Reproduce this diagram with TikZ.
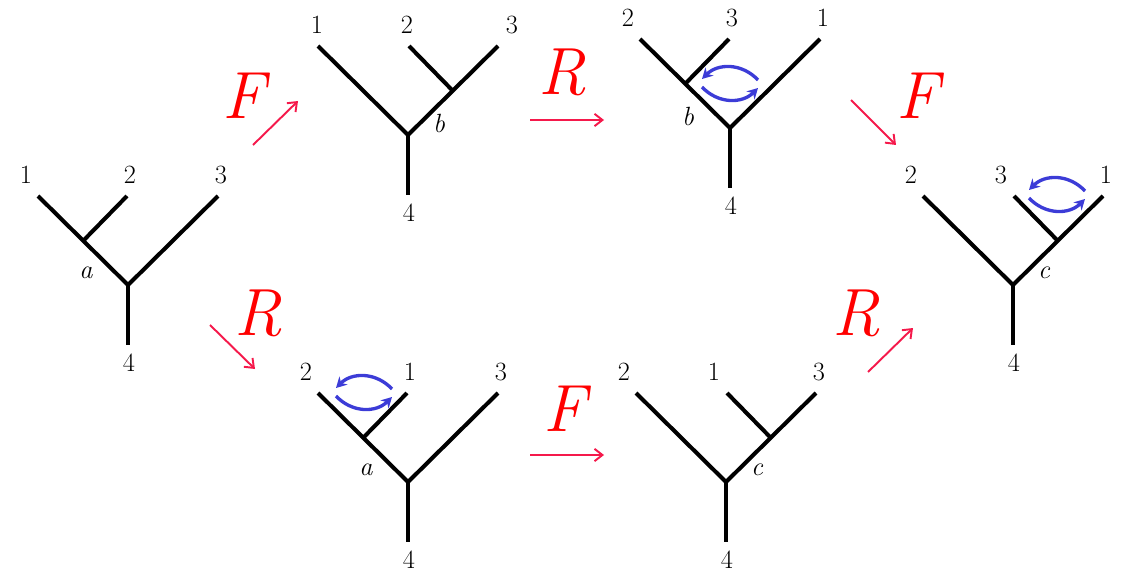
\documentclass[tikz,border=0pt]{standalone}
\usepackage{tikz}
\usetikzlibrary{arrows.meta}
\definecolor{movered}{RGB}{245,25,75}
\definecolor{swapblue}{RGB}{60,60,215}
\tikzset{
	branch/.style={line width=2.3pt, line cap=butt},
	leaflabel/.style={font=\fontsize{15}{18}\selectfont},
	edgelabel/.style={font=\fontsize{15}{18}\selectfont\itshape}
}
\tikzset{
	movelabel/.style={font=\fontsize{38}{40}\selectfont\itshape, text=red},
	movearrow/.style={draw=movered, line width=1.1pt, -{Straight Barb[length=4.5pt,width=7pt]}},
	swaparrow/.style={draw=swapblue, line width=1.9pt, -{Stealth[length=6pt,width=6.5pt]}}
}
% tree with the inner vertex on the left branch: name, root x, root y, leaf labels, edge label
\newcommand{\treeleft}[7]{
  \coordinate (#1root) at (#2,#3);
  \coordinate (#1stem) at (#2,#3+60);
  \coordinate (#1in) at (#2-45,#3-44);
  \coordinate (#1l) at (#2-90,#3-89);
  \coordinate (#1m) at (#2-1,#3-89);
  \coordinate (#1r) at (#2+90,#3-89);
  \draw[branch] (#1l) -- (#1root) -- (#1r);
  \draw[branch] (#1in) -- (#1m);
  \draw[branch] (#1root) -- (#1stem);
  \node[leaflabel] (#1nl) at (#2-102,#3-110) {#4};
  \node[leaflabel] (#1nm) at (#2+2,#3-110) {#5};
  \node[leaflabel] (#1nr) at (#2+93,#3-110) {#6};
  \node[leaflabel] (#1nb) at (#2+1,#3+78) {4};
  \node[edgelabel] (#1ne) at (#2-42,#3-12) {#7};
}
% tree with the inner vertex on the right branch (optional shift of the leaf labels)
\newcommand{\treeright}[8][0]{
  \coordinate (#2root) at (#3,#4);
  \coordinate (#2stem) at (#3,#4+60);
  \coordinate (#2in) at (#3+45,#4-44);
  \coordinate (#2l) at (#3-90,#4-89);
  \coordinate (#2m) at (#3+1,#4-89);
  \coordinate (#2r) at (#3+90,#4-89);
  \draw[branch] (#2l) -- (#2root) -- (#2r);
  \draw[branch] (#2in) -- (#2m);
  \draw[branch] (#2root) -- (#2stem);
  \node[leaflabel] (#2nl) at (#3-102+#1,#4-110) {#5};
  \node[leaflabel] (#2nm) at (#3-12+#1,#4-110) {#6};
  \node[leaflabel] (#2nr) at (#3+93+#1,#4-110) {#7};
  \node[leaflabel] (#2nb) at (#3+1,#4+78) {4};
  \node[edgelabel] (#2ne) at (#3+31,#4-12) {#8};
}
% pair of curved arrows for a swap
\newcommand{\swaparrows}[3]{
  \coordinate (#1a) at (#2+28,#3-4);
  \coordinate (#1b) at (#2-28,#3-5);
  \coordinate (#1c) at (#2-28,#3+3);
  \coordinate (#1d) at (#2+28,#3+4);
  \draw[swaparrow] (#1a) .. controls (#2+12,#3-21) and (#2-12,#3-21) .. (#1b);
  \draw[swaparrow] (#1c) .. controls (#2-12,#3+20) and (#2+12,#3+20) .. (#1d);
}
\begin{document}
\begin{tikzpicture}[x=0.02cm, y=-0.02cm]
      \useasboundingbox (0,0) rectangle (1130,571);

      % the six trees
      \treeleft{ta}{128}{285}{1}{2}{3}{a}
      \treeright[11]{tb}{408}{135}{1}{2}{3}{b}
      \treeleft{tc}{730}{128}{2}{3}{1}{b}
      \treeright{td}{1013}{285}{2}{3}{1}{c}
      \treeleft{te}{408}{482}{2}{1}{3}{a}
      \treeright{tf}{726}{482}{2}{1}{3}{c}

      \swaparrows{sc}{730}{84}
      \swaparrows{sd}{1057}{195}
      \swaparrows{se}{364}{393}

      % moves between the trees
      \coordinate (f1s) at (253,145);  \coordinate (f1e) at (298,101);
      \coordinate (r1s) at (530,120);  \coordinate (r1e) at (604,120);
      \coordinate (f2s) at (851,100);  \coordinate (f2e) at (896,145);
      \coordinate (r2s) at (210,325);  \coordinate (r2e) at (255,369);
      \coordinate (f3s) at (530,455);  \coordinate (f3e) at (604,455);
      \coordinate (r3s) at (868,372);  \coordinate (r3e) at (913,328);

      \draw[movearrow] (f1s) -- (f1e);
      \draw[movearrow] (r1s) -- (r1e);
      \draw[movearrow] (f2s) -- (f2e);
      \draw[movearrow] (r2s) -- (r2e);
      \draw[movearrow] (f3s) -- (f3e);
      \draw[movearrow] (r3s) -- (r3e);

      \node[movelabel] (f1) at (244,96) {F};
      \node[movelabel] (r1) at (562,72) {R};
      \node[movelabel] (f2) at (918,96) {F};
      \node[movelabel] (r2) at (258,313) {R};
      \node[movelabel] (f3) at (565,409) {F};
      \node[movelabel] (r3) at (856,313) {R};
\end{tikzpicture}
\end{document}
